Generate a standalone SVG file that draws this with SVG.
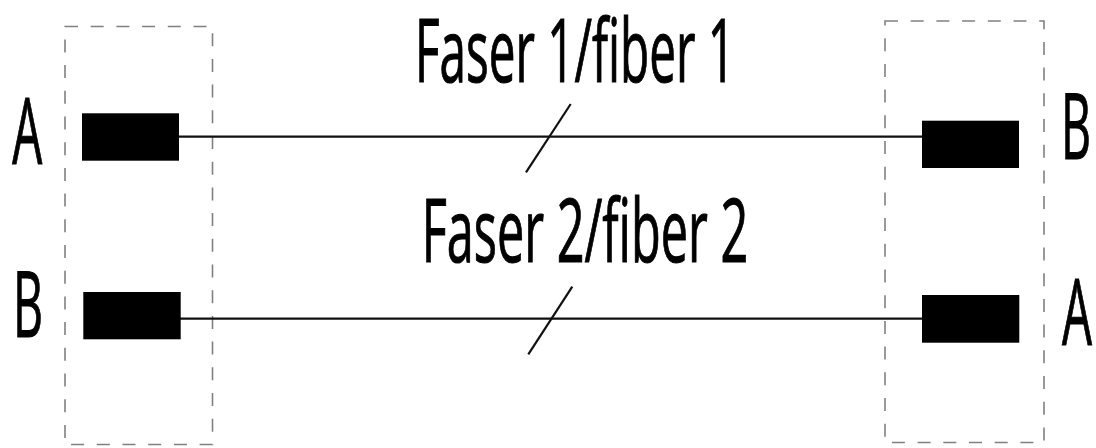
<svg xmlns="http://www.w3.org/2000/svg" width="1096" height="448" viewBox="0 0 1096 448">
<style>
.box{fill:none;stroke:#808080;stroke-width:1.6;stroke-dasharray:13 12.7}
.conn{fill:#000;stroke:none}
.line{stroke:#111;stroke-width:2.2;fill:none}
.slash{stroke:#111;stroke-width:2.2;fill:none}
.lbl{font-family:"Open Sans","Noto Sans",sans-serif;fill:#000;stroke:#000;stroke-width:1.1}
</style>
<rect width="1096" height="448" fill="#fff"/>
<g id="box-left"><rect class="box" x="65" y="26.5" width="147.5" height="418"/></g>
<g id="box-right"><rect class="box" x="885" y="21" width="159" height="421.5"/></g>
<g id="connectors">
<line class="line" x1="178" y1="136.7" x2="923" y2="136.7"/>
<line class="line" x1="180" y1="318.7" x2="931" y2="318.7"/>
<line class="slash" x1="526" y1="172.3" x2="570.7" y2="104"/>
<line class="slash" x1="528.3" y1="354.3" x2="572.3" y2="286.7"/>
</g>
<g id="conn-left-A"><rect class="conn" x="82" y="113.3" width="97" height="47.4"/></g>
<g id="conn-left-B"><rect class="conn" x="83.3" y="292" width="97.4" height="47.3"/></g>
<g id="conn-right-B"><rect class="conn" x="922" y="120.7" width="97" height="47.3"/></g>
<g id="conn-right-A"><rect class="conn" x="922" y="295" width="97.3" height="47.7"/></g>
<g id="label-left-A"><text class="lbl" x="12.3" y="164" font-size="92" textLength="30" lengthAdjust="spacingAndGlyphs">A</text></g>
<g id="label-left-B"><text class="lbl" x="13" y="336.7" font-size="92" textLength="30" lengthAdjust="spacingAndGlyphs">B</text></g>
<g id="label-right-B"><text class="lbl" x="1061" y="159.3" font-size="92" textLength="30" lengthAdjust="spacingAndGlyphs">B</text></g>
<g id="label-right-A"><text class="lbl" x="1062" y="345" font-size="92" textLength="30" lengthAdjust="spacingAndGlyphs">A</text></g>
<g id="label-fiber1"><text class="lbl" x="415" y="81.7" font-size="87" textLength="320" lengthAdjust="spacingAndGlyphs">Faser 1/fiber 1</text></g>
<g id="label-fiber2"><text class="lbl" x="421.7" y="261.7" font-size="87" textLength="326.6" lengthAdjust="spacingAndGlyphs">Faser 2/fiber 2</text></g>
</svg>
